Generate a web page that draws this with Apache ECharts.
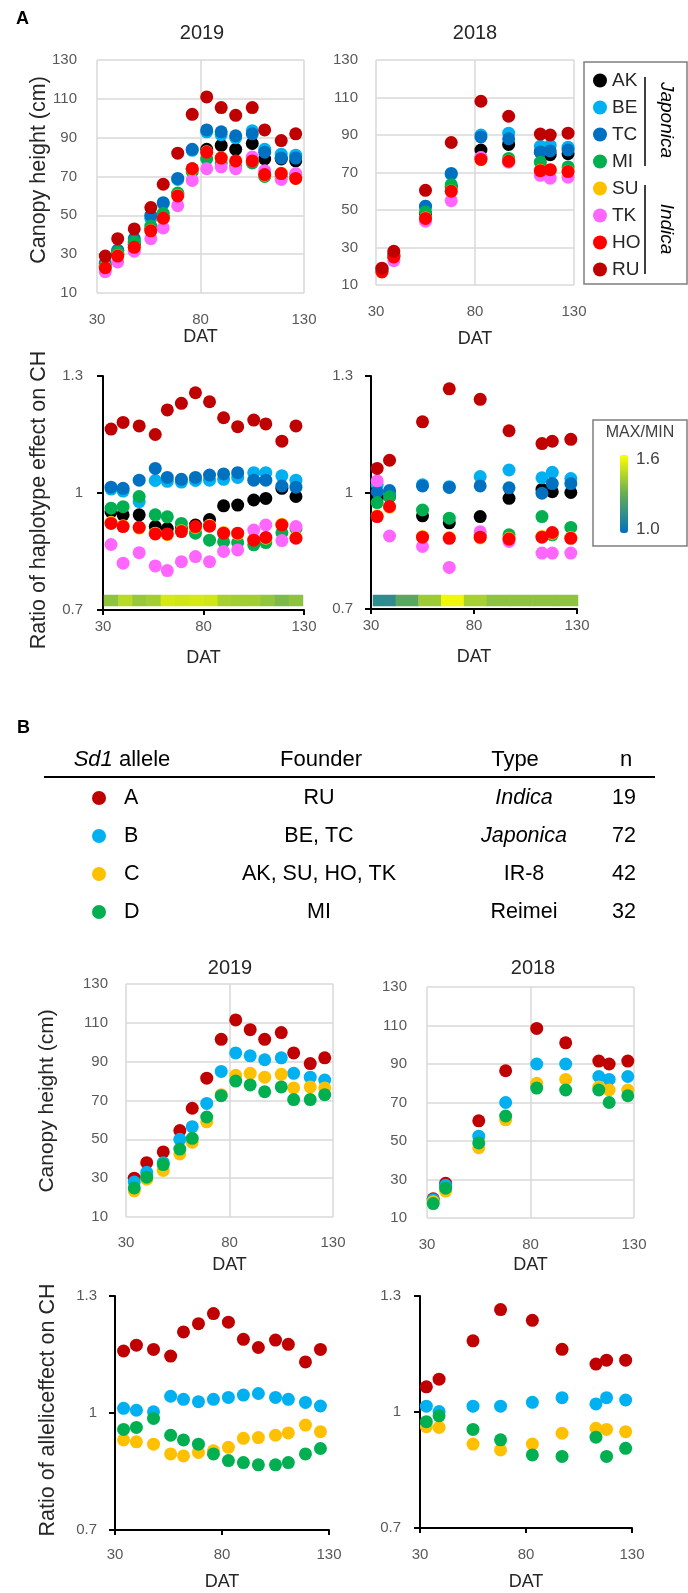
<!DOCTYPE html>
<html><head><meta charset="utf-8">
<script src="https://cdn.jsdelivr.net/npm/echarts@6/dist/echarts.min.js"></script>
<style>html,body{margin:0;padding:0;background:#fff}#c{width:688px;height:1593px}</style>
</head><body><div id="c"></div><script>
// ---------------- DATA ----------------
const dat2019 = [34, 40, 48, 56, 62, 69, 76, 83, 90, 97, 105, 111, 119, 126];
const dat2018 = [33, 39, 55, 68, 83, 97, 113, 118, 127];
const lineNames = ['AK', 'BE', 'TC', 'MI', 'SU', 'TK', 'HO', 'RU'];
const alleleNames = ['A', 'B', 'C', 'D'];

// Panel A: canopy height (cm), 2019
const ch19_AK = [24, 30, 35, 43, 49, 61, 74, 84, 86, 84, 87, 79, 79, 78];
const ch19_BE = [25, 32, 36, 48.5, 56, 68.5, 83.5, 93, 91.5, 90, 93.5, 84, 81.5, 81];
const ch19_TC = [25.5, 32, 38, 50, 56.5, 69, 84, 94, 93, 91, 92, 82.5, 79.5, 79.5];
const ch19_MI = [24, 31, 36.5, 44.5, 51, 61.5, 72.5, 79, 77, 75.5, 77, 70, 70, 71];
const ch19_SU = [23.2, 29.2, 33.3, 42.2, 48.3, 60.2, 73.8, 82.7, 79.7, 77.8, 78.2, 70.8, 71.7, 69.2];
const ch19_TK = [21, 26, 31.5, 38, 43.5, 55, 68, 74, 75, 74, 80, 73, 68.5, 71.5];
const ch19_HO = [23, 29, 33.5, 42, 48.5, 60, 74, 82.5, 79.5, 78, 78, 71, 71.5, 69];
const ch19_RU = [29, 38, 43, 54, 66, 82, 102, 111, 105.5, 101.5, 105.5, 94, 88.5, 92];
// Panel A: canopy height (cm), 2018
const ch18_AK = [18, 25.5, 48, 62.5, 82, 85, 81, 79.5, 80];
const ch18_BE = [18.5, 26, 52, 69, 90, 91, 84, 84.5, 83.5];
const ch18_TC = [18, 26, 52, 69.5, 89, 88, 81, 81.5, 82];
const ch18_MI = [17.5, 25.5, 49, 63.5, 78, 77.5, 75.5, 71, 73];
const ch18_SU = [17.2, 25.2, 45.7, 60.2, 76.8, 76.2, 71.2, 71.3, 70.7];
const ch18_TK = [18.5, 23, 44, 55, 78, 75.5, 68.5, 67, 67.5];
const ch18_HO = [17, 25, 45.5, 60, 77, 76, 71, 71.5, 70.5];
const ch18_RU = [19, 28, 60.5, 86, 108, 100, 90.5, 90, 91];
// Panel A: ratio of haplotype effect, 2019
const r19_AK = [0.952, 0.944, 0.944, 0.914, 0.909, 0.909, 0.918, 0.932, 0.967, 0.969, 0.982, 0.986, 1.012, 0.991];
const r19_BE = [1.01, 1.005, 0.978, 1.032, 1.03, 1.028, 1.032, 1.033, 1.035, 1.04, 1.052, 1.052, 1.044, 1.033];
const r19_TC = [1.015, 1.012, 1.033, 1.063, 1.040, 1.035, 1.040, 1.046, 1.049, 1.052, 1.033, 1.033, 1.018, 1.015];
const r19_MI = [0.961, 0.965, 0.991, 0.944, 0.939, 0.922, 0.897, 0.879, 0.875, 0.873, 0.867, 0.873, 0.898, 0.909];
const r19_SU = [0.925, 0.916, 0.910, 0.897, 0.893, 0.903, 0.912, 0.917, 0.899, 0.895, 0.881, 0.884, 0.92, 0.886];
const r19_TK = [0.868, 0.820, 0.847, 0.813, 0.801, 0.824, 0.837, 0.824, 0.850, 0.854, 0.905, 0.918, 0.878, 0.914];
const r19_HO = [0.922, 0.914, 0.912, 0.895, 0.895, 0.901, 0.914, 0.915, 0.897, 0.897, 0.879, 0.886, 0.918, 0.884];
const r19_RU = [1.164, 1.181, 1.172, 1.150, 1.213, 1.230, 1.257, 1.234, 1.193, 1.170, 1.187, 1.177, 1.133, 1.172];
// Panel A: ratio of haplotype effect, 2018
const r18_AK = [0.985, 0.99, 0.940, 0.922, 0.938, 0.985, 1.008, 1.002, 1.0];
const r18_BE = [1.02, 1.0, 1.02, 1.015, 1.041, 1.058, 1.038, 1.052, 1.036];
const r18_TC = [1.002, 1.005, 1.017, 1.013, 1.017, 1.012, 0.998, 1.023, 1.023];
const r18_MI = [0.974, 0.989, 0.955, 0.934, 0.891, 0.891, 0.938, 0.891, 0.910];
const r18_SU = [0.94, 0.962, 0.887, 0.884, 0.883, 0.882, 0.887, 0.895, 0.884];
const r18_TK = [1.030, 0.888, 0.861, 0.807, 0.899, 0.874, 0.844, 0.844, 0.844];
const r18_HO = [0.938, 0.964, 0.885, 0.882, 0.885, 0.880, 0.885, 0.897, 0.882];
const r18_RU = [1.062, 1.083, 1.182, 1.267, 1.240, 1.159, 1.126, 1.132, 1.137];
// Panel A: MAX/MIN strips
const maxmin2019 = [1.38, 1.46, 1.40, 1.42, 1.52, 1.51, 1.52, 1.51, 1.43, 1.42, 1.42, 1.39, 1.35, 1.38];
const maxmin2018 = [1.14, 1.27, 1.41, 1.57, 1.43, 1.38, 1.38, 1.38, 1.38];

// Panel B table
const tblAllele = ['A', 'B', 'C', 'D'];
const tblFounder = ['RU', 'BE, TC', 'AK, SU, HO, TK', 'MI'];
const tblType = ['Indica', 'Japonica', 'IR-8', 'Reimei'];
const tblN = ['19', '72', '42', '32'];
// Panel B: canopy height by allele
const bch19_A = [30, 38, 43.5, 54.5, 66, 81.5, 101.5, 111.5, 106.5, 101.5, 105, 94.5, 89, 92];
const bch19_B = [28, 33, 38, 50, 56.5, 68.5, 85, 94.5, 93, 91, 92, 84, 82, 80.5];
const bch19_C = [23.5, 29.5, 34, 42.5, 48.5, 59, 73, 83, 84, 82, 83.5, 76.5, 77, 76.5];
const bch19_D = [25, 30.5, 37, 45, 50.5, 61.5, 72.5, 80, 78, 74.5, 77, 70.5, 70.5, 73];
const bch18_A = [20, 28, 60.5, 86.5, 108.5, 101, 91.5, 90, 91.5];
const bch18_B = [19.5, 27, 52.5, 70, 90, 90, 83.5, 82, 83.5];
const bch18_C = [18.5, 24, 46.5, 61, 80, 82, 78, 76.5, 76.5];
const bch18_D = [17.5, 25.5, 49, 63, 77.5, 76.5, 76.5, 70, 73.5];
// Panel B: ratio of allelic effect
const br19_A = [1.159, 1.174, 1.163, 1.146, 1.208, 1.229, 1.255, 1.233, 1.189, 1.168, 1.187, 1.176, 1.131, 1.163];
const br19_B = [1.012, 1.007, 1.003, 1.043, 1.035, 1.029, 1.035, 1.040, 1.046, 1.050, 1.040, 1.035, 1.027, 1.018];
const br19_C = [0.931, 0.926, 0.920, 0.895, 0.890, 0.899, 0.903, 0.912, 0.935, 0.937, 0.943, 0.949, 0.969, 0.952];
const br19_D = [0.958, 0.963, 0.986, 0.943, 0.931, 0.920, 0.895, 0.878, 0.873, 0.867, 0.867, 0.873, 0.895, 0.909];
const br18_A = [1.065, 1.085, 1.184, 1.265, 1.237, 1.162, 1.124, 1.134, 1.134];
const br18_B = [1.015, 1.001, 1.015, 1.015, 1.025, 1.037, 1.021, 1.037, 1.031];
const br18_C = [0.962, 0.960, 0.917, 0.902, 0.917, 0.945, 0.958, 0.955, 0.949];
const br18_D = [0.975, 0.990, 0.955, 0.928, 0.889, 0.885, 0.935, 0.885, 0.906];

// ---------------- STYLES ----------------
const lineColors = ['#000000', '#00B0F0', '#0070C0', '#00B050', '#FFC000', '#FF66FF', '#FF0000', '#C00000'];
const alleleColors = ['#C00000', '#00B0F0', '#FFC000', '#00B050'];
const FONT = 'Liberation Sans';
const LBL = '#595959';
const DARK = '#262626';

const ch19 = [ch19_AK, ch19_BE, ch19_TC, ch19_MI, ch19_SU, ch19_TK, ch19_HO, ch19_RU];
const ch18 = [ch18_AK, ch18_BE, ch18_TC, ch18_MI, ch18_SU, ch18_TK, ch18_HO, ch18_RU];
const r19 = [r19_AK, r19_BE, r19_TC, r19_MI, r19_SU, r19_TK, r19_HO, r19_RU];
const r18 = [r18_AK, r18_BE, r18_TC, r18_MI, r18_SU, r18_TK, r18_HO, r18_RU];
const bch19 = [bch19_A, bch19_B, bch19_C, bch19_D];
const bch18 = [bch18_A, bch18_B, bch18_C, bch18_D];
const br19 = [br19_A, br19_B, br19_C, br19_D];
const br18 = [br18_A, br18_B, br18_C, br18_D];

const grids = [
  {left: 97, top: 60, width: 207, height: 233},   // 0 A canopy 2019
  {left: 376, top: 60, width: 198, height: 225},  // 1 A canopy 2018
  {left: 103, top: 376, width: 201, height: 234}, // 2 A ratio 2019
  {left: 371, top: 376, width: 206, height: 233}, // 3 A ratio 2018
  {left: 126, top: 984, width: 207, height: 233}, // 4 B canopy 2019
  {left: 427, top: 987, width: 207, height: 231}, // 5 B canopy 2018
  {left: 115, top: 1296, width: 214, height: 234},// 6 B ratio 2019
  {left: 420, top: 1296, width: 212, height: 232},// 7 B ratio 2018
  {left: 104, top: 595, width: 199, height: 11},  // 8 strip 2019
  {left: 373, top: 595, width: 205, height: 11}   // 9 strip 2018
];

function canopyX(gi, lm, gap) {
  return {type: 'value', gridIndex: gi, min: 30, max: 130, interval: 50,
    axisLine: {show: false}, axisTick: {show: false},
    splitLine: {show: true, lineStyle: {color: '#d9d9d9', width: 1.5}},
    axisLabel: {color: LBL, fontSize: 15, fontFamily: FONT, margin: lm},
    name: 'DAT', nameLocation: 'middle', nameGap: gap,
    nameTextStyle: {color: DARK, fontSize: 18, fontFamily: FONT}};
}
function canopyY(gi, lm) {
  return {type: 'value', gridIndex: gi, min: 10, max: 130, interval: 20,
    axisLine: {show: false}, axisTick: {show: false},
    splitLine: {show: true, lineStyle: {color: '#d9d9d9', width: 1.5}},
    axisLabel: {color: LBL, fontSize: 15, fontFamily: FONT, margin: lm}};
}
function ratioX(gi, lm, gap) {
  return {type: 'value', gridIndex: gi, min: 30, max: 130, interval: 50,
    axisLine: {show: true, onZero: false, lineStyle: {color: '#000', width: 2}},
    axisTick: {show: true, length: 5, lineStyle: {color: '#000', width: 2}},
    splitLine: {show: false},
    axisLabel: {color: LBL, fontSize: 15, fontFamily: FONT, margin: lm},
    name: 'DAT', nameLocation: 'middle', nameGap: gap,
    nameTextStyle: {color: DARK, fontSize: 18, fontFamily: FONT}};
}
function ratioY(gi, lm) {
  return {type: 'value', gridIndex: gi, min: 0.7, max: 1.3, interval: 0.3,
    axisLine: {show: true, onZero: false, lineStyle: {color: '#000', width: 2}},
    axisTick: {show: true, length: 6, lineStyle: {color: '#000', width: 2}},
    splitLine: {show: false},
    axisLabel: {color: LBL, fontSize: 15, fontFamily: FONT, margin: lm}};
}

const xAxes = [
  canopyX(0, 19, 33), canopyX(1, 19, 45),
  ratioX(2, 9, 39), ratioX(3, 9, 39),
  canopyX(4, 18, 39), canopyX(5, 19, 38),
  ratioX(6, 17, 43), ratioX(7, 19, 45),
  {type: 'category', gridIndex: 8, data: maxmin2019.map((v, i) => i), show: false},
  {type: 'category', gridIndex: 9, data: maxmin2018.map((v, i) => i), show: false}
];
const yAxes = [
  canopyY(0, 20), canopyY(1, 18),
  ratioY(2, 20), ratioY(3, 18),
  canopyY(4, 18), canopyY(5, 20),
  ratioY(6, 18), ratioY(7, 19),
  {type: 'category', gridIndex: 8, data: ['r'], show: false},
  {type: 'category', gridIndex: 9, data: ['r'], show: false}
];

const series = [];
function addScatter(name, ai, xs, ys, color) {
  series.push({type: 'scatter', name: name, xAxisIndex: ai, yAxisIndex: ai,
    data: xs.map((d, i) => [d, ys[i]]), symbol: 'circle', symbolSize: 13,
    itemStyle: {color: color, opacity: 1}, emphasis: {disabled: true}, silent: true});
}
lineNames.forEach((n, k) => addScatter(n, 0, dat2019, ch19[k], lineColors[k]));
lineNames.forEach((n, k) => addScatter(n, 1, dat2018, ch18[k], lineColors[k]));
lineNames.forEach((n, k) => addScatter(n, 2, dat2019, r19[k], lineColors[k]));
lineNames.forEach((n, k) => addScatter(n, 3, dat2018, r18[k], lineColors[k]));
alleleNames.forEach((n, k) => addScatter(n, 4, dat2019, bch19[k], alleleColors[k]));
alleleNames.forEach((n, k) => addScatter(n, 5, dat2018, bch18[k], alleleColors[k]));
alleleNames.forEach((n, k) => addScatter(n, 6, dat2019, br19[k], alleleColors[k]));
alleleNames.forEach((n, k) => addScatter(n, 7, dat2018, br18[k], alleleColors[k]));
const heatIdx = [];
[[8, maxmin2019], [9, maxmin2018]].forEach(([ai, vals]) => {
  heatIdx.push(series.length);
  series.push({type: 'heatmap', name: 'MAX/MIN', xAxisIndex: ai, yAxisIndex: ai,
    data: vals.map((v, i) => [i, 0, v]), itemStyle: {borderWidth: 0}, emphasis: {disabled: true}, silent: true});
});

// ---------------- GRAPHIC TEXTS ----------------
function txt(x, y, text, o) {
  o = o || {};
  return {type: 'text', x: x, y: y, rotation: o.rot || 0, scaleX: o.sx || 1,
    style: {x: 0, y: 0, text: text, fill: o.color || DARK, fontSize: o.size || 18,
      fontFamily: o.family || FONT, fontWeight: o.weight || 'normal', fontStyle: o.style || 'normal',
      align: o.align || 'center', verticalAlign: 'middle', rich: o.rich}};
}
const graphics = [];
graphics.push(txt(16, 19, 'A', {size: 18, weight: 'bold', align: 'left', color: '#000'}));
graphics.push(txt(17, 728, 'B', {size: 18, weight: 'bold', align: 'left', color: '#000'}));
graphics.push(txt(202, 33, '2019', {size: 20}));
graphics.push(txt(475, 33, '2018', {size: 20}));
graphics.push(txt(230, 968, '2019', {size: 20}));
graphics.push(txt(533, 968, '2018', {size: 20}));
// rotated axis titles
const ROT = Math.PI / 2;
graphics.push(txt(39, 170, 'Canopy height (cm)', {size: 21.5, rot: ROT}));
graphics.push(txt(39, 500, 'Ratio of haplotype effect on CH', {size: 21.5, rot: ROT}));
graphics.push(txt(47, 1101, 'Canopy height (cm)', {size: 21, rot: ROT}));
graphics.push(txt(48, 1410, 'Ratio of alleliceffect on CH', {size: 21.5, rot: ROT}));
// legend frame + group brackets
graphics.push({type: 'rect', shape: {x: 584, y: 62, width: 103, height: 222}, style: {fill: 'none', stroke: '#7f7f7f', lineWidth: 1.5}});
graphics.push({type: 'line', shape: {x1: 645, y1: 77, x2: 645, y2: 166}, style: {stroke: '#000', lineWidth: 1.5}});
graphics.push({type: 'line', shape: {x1: 645, y1: 185, x2: 645, y2: 274}, style: {stroke: '#000', lineWidth: 1.5}});
graphics.push(txt(666, 120, 'Japonica', {size: 19, style: 'italic', rot: -ROT, color: '#000'}));
graphics.push(txt(666, 229, 'Indica', {size: 19, style: 'italic', rot: -ROT, color: '#000'}));
// colorbar frame
graphics.push({type: 'rect', shape: {x: 593, y: 420, width: 94, height: 126}, style: {fill: 'none', stroke: '#7f7f7f', lineWidth: 1.5}});
graphics.push(txt(640, 433, 'MAX/MIN', {size: 16, color: '#404040'}));
graphics.push(txt(636, 459, '1.6', {size: 17, align: 'left', color: '#404040'}));
graphics.push(txt(636, 529, '1.0', {size: 17, align: 'left', color: '#404040'}));
// table
const TS = 21.5;
graphics.push(txt(122, 760, '{i|Sd1} allele', {size: 22, color: '#000', rich: {i: {fontStyle: 'italic', fontSize: 22, fontFamily: FONT}}}));
graphics.push(txt(321, 760, 'Founder', {size: 22, color: '#000'}));
graphics.push(txt(515, 760, 'Type', {size: 22, color: '#000'}));
graphics.push(txt(626, 760, 'n', {size: 22, color: '#000'}));
graphics.push({type: 'line', shape: {x1: 44, y1: 777, x2: 655, y2: 777}, style: {stroke: '#000', lineWidth: 2}});
const rowY = [798, 836, 874, 912];
tblAllele.forEach((a, i) => {
  graphics.push({type: 'circle', shape: {cx: 99, cy: rowY[i], r: 7}, style: {fill: alleleColors[i]}});
  graphics.push(txt(124, rowY[i], a, {size: TS, align: 'left', color: '#000'}));
  graphics.push(txt(319, rowY[i], tblFounder[i], {size: TS, color: '#000'}));
  graphics.push(txt(524, rowY[i], tblType[i], {size: TS, color: '#000', style: i < 2 ? 'italic' : 'normal'}));
  graphics.push(txt(624, rowY[i], tblN[i], {size: TS, color: '#000'}));
});

const option = {
  animation: false,
  backgroundColor: '#ffffff',
  textStyle: {fontFamily: FONT},
  grid: grids,
  xAxis: xAxes,
  yAxis: yAxes,
  legend: {data: lineNames, orient: 'vertical', left: 593, top: 71, itemWidth: 14, itemHeight: 14,
    itemGap: 8, icon: 'circle', selectedMode: false, padding: 0,
    textStyle: {fontSize: 19, lineHeight: 19, color: DARK, fontFamily: FONT}},
  visualMap: {type: 'continuous', min: 1.0, max: 1.6, seriesIndex: heatIdx, calculable: false,
    orient: 'vertical', left: 620, top: 455, itemWidth: 8, itemHeight: 78, padding: 0,
    inRange: {color: ['#0070C0', '#64AD54', '#FFFF00']}},
  graphic: graphics,
  series: series
};
const chart = echarts.init(document.getElementById('c'), null, {renderer: 'canvas', width: 688, height: 1593});
chart.setOption(option);
</script></body></html>
